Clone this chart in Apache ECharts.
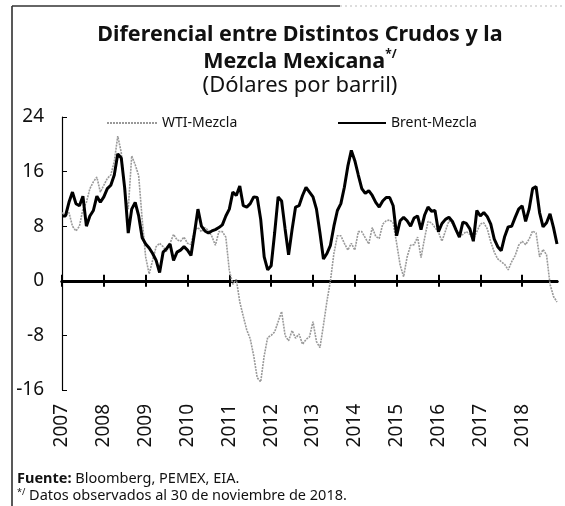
<!DOCTYPE html>
<html>
<head>
<meta charset="utf-8">
<script src="https://cdn.jsdelivr.net/npm/echarts@6/dist/echarts.min.js"></script>
<style>
html, body { margin: 0; padding: 0; background: #fff; }
#chart { width: 565px; height: 506px; }
</style>
</head>
<body>
<div id="chart"></div>
<script>
// años del eje; los datos son mensuales, ene 2007 - nov 2018
const years = [2007, 2008, 2009, 2010, 2011, 2012, 2013, 2014, 2015, 2016, 2017, 2018];
const lastMonth = 11; // noviembre 2018
const months = [];
years.forEach(y => {
    for (let m = 1; m <= 12; m++) {
        if (y === 2018 && m > lastMonth) break;
        months.push(y + '-' + (m < 10 ? '0' + m : m));
    }
});

const yTicks = [-16, -8, 0, 8, 16, 24];

// WTI-Mezcla (dólares por barril)
const wtiMezcla = [
    10, 9.5, 10, 8, 7.3, 8, 10.5, 11.5, 13.5, 14.5, 15.2, 13,
    14, 15, 15.5, 17.5, 21.2, 18.8, 13, 10.5, 18.3, 17, 15.4, 9,
    3.5, 1, 3, 5, 5.5, 5, 4.3, 5.5, 6.8, 6, 5.8, 6.4,
    5.5, 5.3, 7.4, 7.8, 7.2, 7.8, 7.4, 6.5, 5.2, 7.2, 7.2, 6.4,
    1.5, -0.5, 0.2, -3.1, -5.2, -7.2, -8.5, -11, -14.2, -14.8, -11, -8.3,
    -8, -7.5, -6, -4.5, -8, -8.8, -7.3, -8.4, -7.8, -9.3, -8.6, -8.2,
    -6, -8.9, -9.8, -6.5, -3, 0, 4, 6.6, 6.6, 5.5, 4.5, 5.5,
    4.5, 7.2, 7.2, 6.3, 5.4, 7.8, 6.5, 6.2, 8.3, 8.8, 8.9, 8.5,
    5.5, 2.3, 0.6, 3.5, 5.2, 5.3, 6.4, 3.4, 6.2, 8.7, 8.5, 7.8,
    7.1, 5.8, 7.3, 8.8, 8.4, 7.5, 6.6, 6.8, 7.2, 6.8, 6.1, 7.2,
    8.3, 8.5, 7.6, 5.7, 4.2, 3.2, 2.8, 2.4, 1.6, 2.8, 3.7, 5.2,
    5.8, 5.3, 6.1, 7.3, 7, 3.5, 4.6, 3.8, -0.5, -2.3, -3.1
];

// Brent-Mezcla (dólares por barril)
const brentMezcla = [
    9.5, 9.5, 11.5, 13, 11.3, 11, 12.4, 8, 9.5, 10.3, 12.4, 11.5,
    12.3, 13.5, 14, 15.5, 18.6, 18, 13.5, 7, 10.5, 11.5, 9.5, 6.3,
    5.4, 4.8, 4, 3, 1.2, 4.2, 4.7, 5.4, 3, 4.2, 4.5, 5,
    4.5, 3.7, 7, 10.5, 8, 7.3, 7, 7.3, 7.5, 7.8, 8.2, 9.5,
    10.5, 13, 12.5, 13.9, 11, 10.8, 11.3, 12.3, 12.2, 9, 3.5, 1.6,
    2.2, 7, 12.3, 11.7, 7.6, 3.8, 7.5, 10.8, 11, 12.5, 13.7, 13,
    12.3, 10.5, 7, 3.2, 4, 5.2, 8, 10.3, 11.3, 13.7, 16.8, 19.1,
    17.6, 15.5, 13.5, 12.8, 13.2, 12.5, 11.5, 10.8, 11.7, 12.2, 12.2, 11,
    6.6, 8.8, 9.3, 8.8, 8, 9.2, 9.5, 7.5, 9.6, 10.8, 10.2, 10.3,
    7.2, 8.4, 9, 9.3, 8.7, 7.5, 6.4, 8.6, 8.4, 7.6, 5.8, 10.3,
    9.5, 10, 9.4, 8.3, 6.1, 5, 4.4, 6.5, 7.9, 8, 9.3, 10.5,
    11, 8.7, 10.5, 13.5, 13.8, 10, 7.9, 8.5, 9.8, 7.8, 5.4
];

const FONT = 'Noto Sans';
const isJan = (index) => index % 12 === 0;

const chart = echarts.init(document.getElementById('chart'));
chart.setOption({
    animation: false,
    backgroundColor: '#fff',
    textStyle: { fontFamily: FONT, color: '#111' },
    graphic: [
        // marco del recuadro
        { type: 'line', shape: { x1: 12, y1: 6, x2: 12, y2: 506 }, style: { stroke: '#222', lineWidth: 1.5 } },
        { type: 'line', shape: { x1: 12, y1: 6, x2: 340, y2: 6 }, style: { stroke: '#333', lineWidth: 1.5 } },
        { type: 'line', shape: { x1: 340, y1: 6, x2: 565, y2: 6 }, style: { stroke: '#bbb', lineWidth: 1, lineDash: [2, 3] } },
        {
            type: 'text', x: 300, y: 24,
            style: { text: 'Diferencial entre Distintos Crudos y la', fontFamily: FONT, fontSize: 21.5, fontWeight: 'bold', fill: '#111', align: 'center' }
        },
        {
            type: 'text', x: 300, y: 49,
            style: {
                text: '{t|Mezcla Mexicana}{s|*/}', align: 'center', fill: '#111',
                rich: {
                    t: { fontFamily: FONT, fontSize: 21.5, fontWeight: 'bold', fill: '#111', lineHeight: 26 },
                    s: { fontFamily: FONT, fontSize: 12, fontWeight: 'bold', fill: '#111', verticalAlign: 'top', padding: [0, 0, 10, 0] }
                }
            }
        },
        {
            type: 'text', x: 300, y: 75,
            style: { text: '(Dólares por barril)', fontFamily: FONT, fontSize: 22, fill: '#111', align: 'center' }
        },
        {
            type: 'text', x: 17, y: 471,
            style: {
                text: '{b|Fuente:} Bloomberg, PEMEX, EIA.', fontFamily: FONT, fontSize: 14.5, fill: '#111',
                rich: { b: { fontFamily: FONT, fontSize: 14.5, fontWeight: 'bold', fill: '#111' } }
            }
        },
        {
            type: 'text', x: 17, y: 488,
            style: {
                text: '{s|*/} Datos observados al 30 de noviembre de 2018.', fontFamily: FONT, fontSize: 14.5, fill: '#111',
                rich: { s: { fontFamily: FONT, fontSize: 9, fill: '#111', verticalAlign: 'top' } }
            }
        }
    ],
    legend: [
        {
            data: ['WTI-Mezcla'], left: 106, top: 116, padding: 0,
            itemWidth: 50, itemHeight: 8, itemGap: 5,
            itemStyle: { opacity: 0 },
            textStyle: { fontFamily: FONT, fontSize: 14, color: '#111' }
        },
        {
            data: ['Brent-Mezcla'], left: 337, top: 116, padding: 0,
            itemWidth: 48, itemHeight: 8, itemGap: 5,
            itemStyle: { opacity: 0 },
            textStyle: { fontFamily: FONT, fontSize: 14, color: '#111' }
        }
    ],
    grid: { left: 62, right: 8, top: 117, bottom: 116 },
    xAxis: [
        {
            type: 'category', data: months, boundaryGap: false, position: 'bottom',
            axisLine: { onZero: true, onZeroAxisIndex: 0, lineStyle: { color: '#000', width: 3 } },
            axisTick: { show: true, interval: isJan, length: 6, lineStyle: { color: '#000', width: 2 } },
            axisLabel: { show: false }
        },
        {
            // mismo eje, marcas hacia arriba
            type: 'category', data: months, boundaryGap: false, position: 'top',
            axisLine: { onZero: true, onZeroAxisIndex: 0, lineStyle: { color: '#000', width: 3 } },
            axisTick: { show: true, interval: isJan, length: 6, lineStyle: { color: '#000', width: 2 } },
            axisLabel: { show: false }
        },
        {
            type: 'category', data: months, boundaryGap: false, position: 'bottom',
            axisLine: { show: false, onZero: false },
            axisTick: { show: false },
            axisLabel: {
                interval: isJan, rotate: 90, margin: 14,
                fontFamily: FONT, fontSize: 19, color: '#111',
                formatter: (v) => v.slice(0, 4)
            }
        }
    ],
    yAxis: {
        type: 'value', min: yTicks[0], max: yTicks[yTicks.length - 1], interval: 8,
        axisLine: { show: true, lineStyle: { color: '#000', width: 1.2 } },
        axisTick: { show: true, inside: true, length: 5, lineStyle: { color: '#000' } },
        splitLine: { show: false },
        axisLabel: { margin: 18, fontFamily: FONT, fontSize: 19, color: '#111' }
    },
    series: [
        {
            name: 'WTI-Mezcla', type: 'line', data: wtiMezcla, xAxisIndex: 0,
            symbol: 'none', smooth: false,
            lineStyle: { color: '#999', width: 1.6, type: [2, 1] },
            itemStyle: { color: '#999' }
        },
        {
            name: 'Brent-Mezcla', type: 'line', data: brentMezcla, xAxisIndex: 0,
            symbol: 'none', smooth: false,
            lineStyle: { color: '#000', width: 3 },
            itemStyle: { color: '#000' },
            z: 3
        }
    ]
});
</script>
</body>
</html>
